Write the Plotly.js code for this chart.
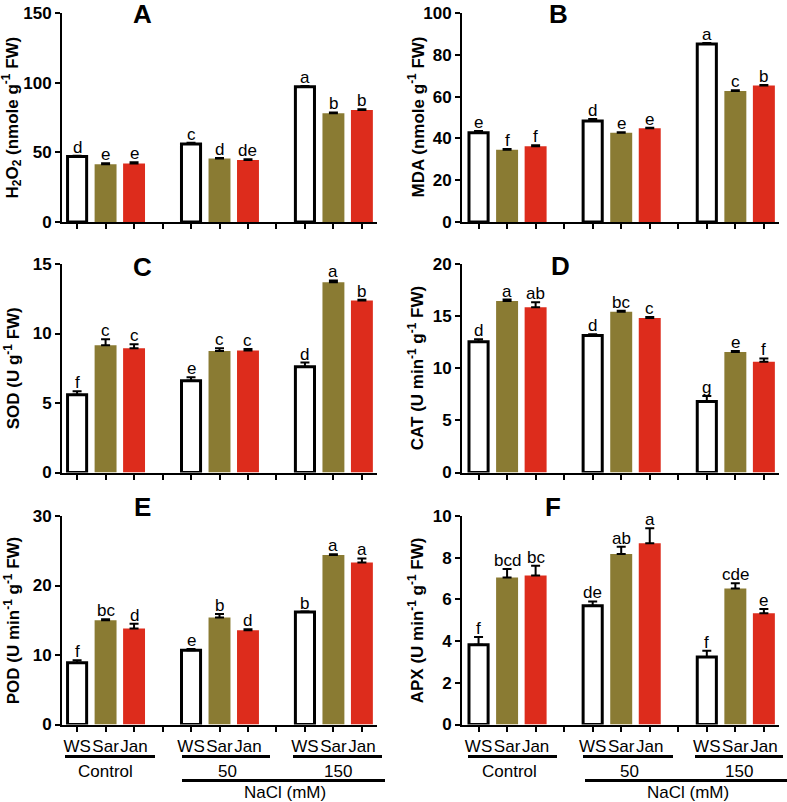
<!DOCTYPE html>
<html><head><meta charset="utf-8">
<script src="https://cdn.plot.ly/plotly-3.0.1.min.js"></script>
<style>html,body{margin:0;padding:0;background:#fff}#chart{width:787px;height:802px}</style>
</head><body><div id="chart"></div>
<script>
// ---- data ----
const groups = ['Control', '50', '150'];
const cultivars = ['WS', 'Sar', 'Jan'];

const h2o2_WS = [47.0, 56.0, 97.0];   const h2o2_WS_err = [0.5, 0.8, 0.6];
const h2o2_Sar = [41.5, 45.5, 78.0];  const h2o2_Sar_err = [0.6, 0.4, 0.6];
const h2o2_Jan = [42.0, 44.5, 80.4];  const h2o2_Jan_err = [0.8, 0.5, 0.5];
const h2o2_letters = [['d','c','a'], ['e','d','b'], ['e','de','b']];

const mda_WS = [42.7, 48.3, 85.2];    const mda_WS_err = [0.8, 1.0, 0.4];
const mda_Sar = [34.6, 42.7, 62.7];   const mda_Sar_err = [0.3, 0.3, 0.3];
const mda_Jan = [36.3, 44.8, 65.3];   const mda_Jan_err = [0.4, 0.3, 0.2];
const mda_letters = [['e','d','a'], ['f','e','c'], ['f','e','b']];

const sod_WS = [5.6, 6.6, 7.6];       const sod_WS_err = [0.24, 0.26, 0.31];
const sod_Sar = [9.16, 8.75, 13.68];  const sod_Sar_err = [0.43, 0.19, 0.14];
const sod_Jan = [8.94, 8.77, 12.38];  const sod_Jan_err = [0.29, 0.12, 0.04];
const sod_letters = [['f','e','d'], ['c','c','a'], ['c','c','b']];

const cat_WS = [12.55, 13.14, 6.8];   const cat_WS_err = [0.22, 0.13, 0.54];
const cat_Sar = [16.46, 15.41, 11.55];const cat_Sar_err = [0.13, 0.10, 0.10];
const cat_Jan = [15.85, 14.83, 10.62];const cat_Jan_err = [0.48, 0.08, 0.32];
const cat_letters = [['d','d','g'], ['a','bc','e'], ['ab','c','f']];

const pod_WS = [8.9, 10.7, 16.2];     const pod_WS_err = [0.33, 0.15, 0.05];
const pod_Sar = [15.0, 15.4, 24.4];   const pod_Sar_err = [0.15, 0.5, 0.1];
const pod_Jan = [13.8, 13.56, 23.3];  const pod_Jan_err = [0.7, 0.15, 0.6];
const pod_letters = [['f','e','b'], ['bc','b','a'], ['d','d','a']];

const apx_WS = [3.83, 5.69, 3.24];    const apx_WS_err = [0.37, 0.21, 0.30];
const apx_Sar = [7.05, 8.18, 6.52];   const apx_Sar_err = [0.41, 0.35, 0.26];
const apx_Jan = [7.15, 8.69, 5.33];   const apx_Jan_err = [0.46, 0.72, 0.21];
const apx_letters = [['f','de','f'], ['bcd','ab','cde'], ['bc','a','e']];

const panelLetters = ['A', 'B', 'C', 'D', 'E', 'F'];
const yTitles = [
  'H<sub>2</sub>O<sub>2</sub> (nmole g<sup>-1</sup> FW)',
  'MDA (nmole g<sup>-1</sup> FW)',
  'SOD (U g<sup>-1</sup> FW)',
  'CAT (U min<sup>-1</sup> g<sup>-1</sup> FW)',
  'POD (U min<sup>-1</sup> g<sup>-1</sup> FW)',
  'APX (U min<sup>-1</sup> g<sup>-1</sup> FW)'
];
const yMax = [150, 100, 15, 20, 30, 10];
const yDtick = [50, 20, 5, 5, 10, 2];

// ---- styling / layout ----
const W = 787, H = 802;
const FONT = 'Liberation Sans, Arial, sans-serif';
const colors = ['#ffffff', '#8a7b33', '#dd2c1c'];
const px = v => v / W;
const py = v => 1 - v / H;

const panels = [
  {WS:[h2o2_WS,h2o2_WS_err], Sar:[h2o2_Sar,h2o2_Sar_err], Jan:[h2o2_Jan,h2o2_Jan_err], L:h2o2_letters},
  {WS:[mda_WS,mda_WS_err], Sar:[mda_Sar,mda_Sar_err], Jan:[mda_Jan,mda_Jan_err], L:mda_letters},
  {WS:[sod_WS,sod_WS_err], Sar:[sod_Sar,sod_Sar_err], Jan:[sod_Jan,sod_Jan_err], L:sod_letters},
  {WS:[cat_WS,cat_WS_err], Sar:[cat_Sar,cat_Sar_err], Jan:[cat_Jan,cat_Jan_err], L:cat_letters},
  {WS:[pod_WS,pod_WS_err], Sar:[pod_Sar,pod_Sar_err], Jan:[pod_Jan,pod_Jan_err], L:pod_letters},
  {WS:[apx_WS,apx_WS_err], Sar:[apx_Sar,apx_Sar_err], Jan:[apx_Jan,apx_Jan_err], L:apx_letters}
];

const colDom = [[62, 377], [462, 779]];
const colRange = [[-0.53, 10.53], [-0.58, 10.53]];
const rowDom = [[13, 222], [264, 472.5], [516, 724.5]];
const letterPos = [[142, 0, 3], [558, 0, 3], [142, 250, 0], [560, 249, 0], [142, 490, 0], [553, 490, 0]];
const yTitleX = [12, 416];

const pos = (g, c) => g * 4 + c;   // category slot: 3 bars + 1 gap per group

const data = [];
const annotations = [];
const layout = {
  width: W, height: H, margin: {l: 0, r: 0, t: 0, b: 0},
  paper_bgcolor: '#fff', plot_bgcolor: '#fff',
  showlegend: false, barmode: 'overlay',
  font: {family: FONT, color: '#000'},
  annotations: annotations, shapes: []
};

panels.forEach((p, i) => {
  const col = i % 2, row = Math.floor(i / 2);
  const xa = 'x' + (i + 1), ya = 'y' + (i + 1);
  const bottom = row === 2;
  const xt = {
    domain: [px(colDom[col][0]), px(colDom[col][1])],
    range: colRange[col], anchor: ya, fixedrange: true,
    showgrid: false, zeroline: false, showline: true, linecolor: '#000', linewidth: 2,
    ticks: 'outside', ticklen: 5, tickwidth: 2, tickcolor: '#000',
    tickvals: [0,1,2,3,4,5,6,7,8,9,10],
    showticklabels: bottom, tickangle: 0,
    tickfont: {family: FONT, size: 17, color: '#000'}
  };
  if (bottom) xt.ticktext = [0,1,2,3,4,5,6,7,8,9,10].map(k => (k % 4 === 3) ? ' ' : cultivars[k % 4]);
  layout['xaxis' + (i + 1)] = xt;
  layout['yaxis' + (i + 1)] = {
    domain: [py(rowDom[row][1]), py(rowDom[row][0])],
    range: [0, yMax[i]], dtick: yDtick[i], anchor: xa, fixedrange: true,
    showgrid: false, zeroline: false, showline: true, linecolor: '#000', linewidth: 2,
    ticks: 'outside', ticklen: 5, tickwidth: 2, tickcolor: '#000',
    tickfont: {family: FONT, size: 17, color: '#000', weight: 'bold'}
  };
  cultivars.forEach((cv, c) => {
    const vals = p[cv][0], errs = p[cv][1];
    const xs = groups.map((g, gi) => pos(gi, c));
    data.push({
      type: 'bar', x: xs, y: vals, xaxis: xa, yaxis: ya,
      width: c === 0 ? 0.67 : 0.77,
      marker: {color: colors[c], line: {color: c === 0 ? '#000' : colors[c], width: c === 0 ? 3 : 0}},
      error_y: {type: 'data', symmetric: false, array: errs, arrayminus: errs.map(() => 0),
                color: '#000', thickness: 2, width: 4.5},
      hoverinfo: 'skip'
    });
    groups.forEach((g, gi) => {
      annotations.push({
        xref: xa, yref: ya, x: pos(gi, c), y: vals[gi] + errs[gi],
        text: p.L[c][gi], showarrow: false, yanchor: 'bottom', yshift: -3,
        font: {family: FONT, size: 17, color: '#000'}
      });
    });
  });
  // panel letter
  annotations.push({xref: 'paper', yref: 'paper', x: px(letterPos[i][0]), y: py(letterPos[i][1]),
    yshift: letterPos[i][2],
    text: '<b>' + panelLetters[i] + '</b>', showarrow: false, xanchor: 'center', yanchor: 'top',
    font: {family: FONT, size: 26, color: '#000'}});
  // y title
  const rd = rowDom[row];
  annotations.push({xref: 'paper', yref: 'paper', x: px(yTitleX[col]), y: py((rd[0] + rd[1]) / 2),
    text: '<b>' + yTitles[i] + '</b>', showarrow: false, textangle: -90, xanchor: 'center', yanchor: 'middle',
    font: {family: FONT, size: 17, color: '#000'}});
});

// group bracket lines and labels under bottom row
const brackets = [
  {lines: [[65, 155], [182, 270], [293, 382]], nacl: [182, 385], lab: [106, 227, 338], naclLab: 285},
  {lines: [[468, 557], [583, 673], [695, 783]], nacl: [585, 787], lab: [509, 629, 739], naclLab: 688}
];
brackets.forEach(b => {
  b.lines.forEach((ln, k) => {
    layout.shapes.push({type: 'line', xref: 'paper', yref: 'paper', x0: px(ln[0]), x1: px(ln[1]),
      y0: py(756.5), y1: py(756.5), line: {color: '#000', width: 3}});
    annotations.push({xref: 'paper', yref: 'paper', x: px(b.lab[k]), y: py(771), text: groups[k],
      showarrow: false, xanchor: 'center', yanchor: 'middle', font: {family: FONT, size: 17, color: '#000'}});
  });
  layout.shapes.push({type: 'line', xref: 'paper', yref: 'paper', x0: px(b.nacl[0]), x1: px(b.nacl[1]),
    y0: py(780.5), y1: py(780.5), line: {color: '#000', width: 3}});
  annotations.push({xref: 'paper', yref: 'paper', x: px(b.naclLab), y: py(792), text: 'NaCl (mM)',
    showarrow: false, xanchor: 'center', yanchor: 'middle', font: {family: FONT, size: 17, color: '#000'}});
});

Plotly.newPlot('chart', data, layout, {staticPlot: true, displayModeBar: false});
</script>
</body></html>
